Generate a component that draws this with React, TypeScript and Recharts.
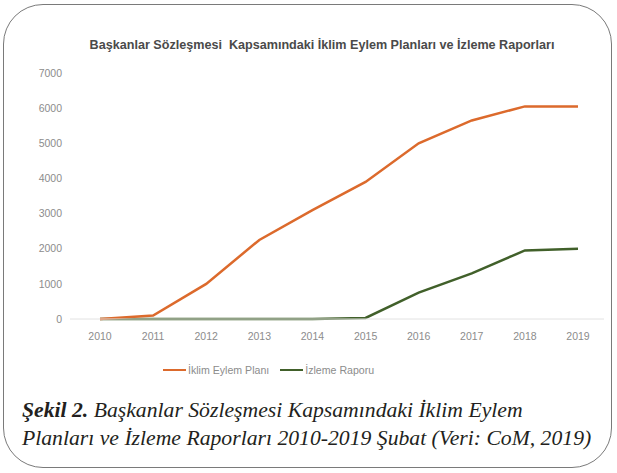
import { LineChart, Line, XAxis, YAxis } from "recharts";

const years = ["2010", "2011", "2012", "2013", "2014", "2015", "2016", "2017", "2018", "2019"];
const eylemPlani = [0, 100, 1000, 2250, 3100, 3900, 5000, 5650, 6050, 6050];
const izlemeRaporu = [0, 0, 0, 0, 0, 30, 750, 1300, 1950, 2000];
const yTicks = [0, 1000, 2000, 3000, 4000, 5000, 6000, 7000];

const ORANGE = "#dc6a2c";
const GREEN = "#41602a";
const TICK = { fill: "#8c8c8c", fontSize: 10.5, fontFamily: "Liberation Sans, Arial, sans-serif" };

const rows = years.map((y, i) => ({ year: y, plan: eylemPlani[i], rapor: izlemeRaporu[i] }));

function ChartLegend() {
  const item = (color: string, label: string) => (
    <span style={{ display: "inline-flex", alignItems: "center", marginRight: 11 }}>
      <span style={{ display: "inline-block", width: 23, height: 2.5, background: color, marginRight: 2 }} />
      <span>{label}</span>
    </span>
  );
  return (
    <div style={{ fontSize: 10.6, color: "#8c8c8c", fontFamily: "Liberation Sans, Arial, sans-serif", whiteSpace: "nowrap" }}>
      {item(ORANGE, "İklim Eylem Planı")}
      {item(GREEN, "İzleme Raporu")}
    </div>
  );
}

export default function App() {
  return (
    <div style={{ position: "absolute", left: 0, top: 0, width: 617, height: 473, background: "#fff", overflow: "hidden" }}>
      <div
        style={{
          position: "absolute",
          left: 3,
          top: 4,
          width: 607,
          height: 462,
          border: "1.5px solid #7a7a7a",
          borderRadius: 40,
        }}
      />
      <div
        style={{
          position: "absolute",
          left: 22,
          top: 38,
          width: 600,
          textAlign: "center",
          fontFamily: "Liberation Sans, Arial, sans-serif",
          fontWeight: "bold",
          fontSize: 12.6,
          color: "#4a4a4a",
          whiteSpace: "nowrap",
        }}
      >
        Başkanlar Sözleşmesi&nbsp; Kapsamındaki İklim Eylem Planları ve İzleme Raporları
      </div>
      <div style={{ position: "absolute", left: 0, top: 0 }}>
        <LineChart width={617} height={473} data={rows} margin={{ top: 73, right: 13, bottom: 124, left: 0 }}>
          <XAxis
            dataKey="year"
            scale="point"
            padding={{ left: 30, right: 26 }}
            height={30}
            tick={TICK}
            tickLine={false}
            tickSize={0}
            tickMargin={14}
            axisLine={{ stroke: "#e2e2e2" }}
          />
          <YAxis
            domain={[0, 7000]}
            ticks={yTicks}
            width={70}
            tick={TICK}
            tickLine={false}
            axisLine={false}
          />
          <Line
            type="linear"
            dataKey="rapor"
            name="İzleme Raporu"
            stroke={GREEN}
            strokeWidth={2.5}
            dot={false}
            isAnimationActive={false}
          />
          <Line
            type="linear"
            dataKey="plan"
            name="İklim Eylem Planı"
            stroke={ORANGE}
            strokeWidth={2.5}
            dot={false}
            isAnimationActive={false}
          />
        </LineChart>
      </div>
      <div style={{ position: "absolute", left: 163, top: 361 }}>
        <ChartLegend />
      </div>
      <div
        style={{
          position: "absolute",
          left: 22,
          top: 396,
          width: 595,
          fontFamily: "Liberation Serif, serif",
          fontStyle: "italic",
          fontSize: 21.7,
          lineHeight: "28px",
          color: "#231f20",
          whiteSpace: "nowrap",
        }}
      >
        <b>Şekil 2.</b> Başkanlar Sözleşmesi Kapsamındaki İklim Eylem
        <br />
        Planları ve İzleme Raporları 2010-2019 Şubat (Veri: CoM, 2019)
      </div>
    </div>
  );
}
